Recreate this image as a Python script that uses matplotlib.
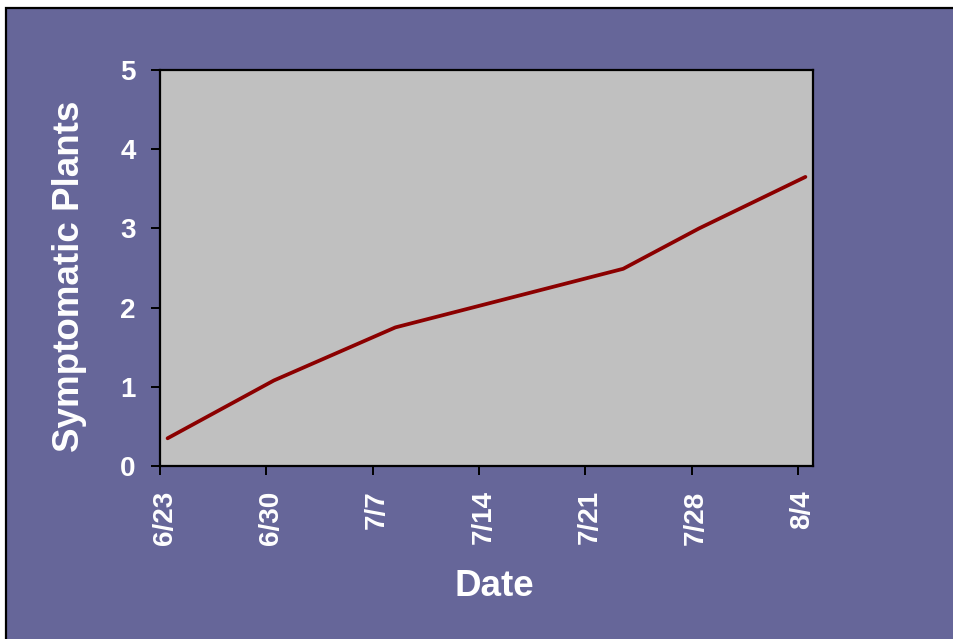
import datetime as dt
import matplotlib
matplotlib.use("Agg")
import matplotlib.pyplot as plt
from matplotlib.patches import Rectangle
from matplotlib.transforms import ScaledTranslation

# Survey data: count of symptomatic plants by sampling date
sample_dates = ["6/23", "6/30", "7/8", "7/23", "7/28", "8/4"]
symptomatic = [0.35, 1.08, 1.75, 2.49, 3.00, 3.65]
tick_dates = ["6/23", "6/30", "7/7", "7/14", "7/21", "7/28", "8/4"]
y_ticks = [0, 1, 2, 3, 4, 5]

plt.rcParams["font.family"] = ["Liberation Sans", "DejaVu Sans"]
plt.rcParams["font.weight"] = "bold"

start = dt.date(2000, 6, 23)


def day_offset(label):
    m, d = (int(p) for p in label.split("/"))
    return (dt.date(2000, m, d) - start).days


# points sit in the middle of their day on a date axis
x_pts = [day_offset(s) + 0.5 for s in sample_dates]
x_ticks = [day_offset(s) for s in tick_dates]

bg = "#666699"
fig = plt.figure(figsize=(9.54, 6.39), dpi=100, facecolor="white")
fig.patches.append(Rectangle((6.5 / 954, -0.1), 1.2, 1 - 7.5 / 639 + 0.1,
                             transform=fig.transFigure, facecolor=bg,
                             edgecolor="black", linewidth=1.6, zorder=-10))

ax = fig.add_axes([160 / 954, 1 - 466 / 639, (813 - 160) / 954, (466 - 70) / 639])
ax.set_zorder(5)
ax.set_facecolor("#C0C0C0")
for sp in ax.spines.values():
    sp.set_color("black")
    sp.set_linewidth(1.6)

ax.plot(x_pts, symptomatic, color="#8B0000", linewidth=2.7,
        solid_capstyle="round", solid_joinstyle="round")

ax.set_xlim(0, 43)
ax.set_ylim(0, 5)
ax.set_xticks(x_ticks)
ax.set_xticklabels(tick_dates, rotation=90, fontsize=20, fontweight="bold",
                   color="white")
ax.set_yticks(y_ticks)
ax.set_yticklabels([str(v) for v in y_ticks], fontsize=20, fontweight="bold",
                   color="white")
ax.tick_params(axis="both", direction="out", length=6.5, width=1.4,
               color="black")
ax.tick_params(axis="y", pad=11)
ax.tick_params(axis="x", pad=11)

shift = ScaledTranslation(4.5 / 100, 0, fig.dpi_scale_trans)
for lbl in ax.get_xticklabels():
    lbl.set_transform(lbl.get_transform() + shift)

fig.text(494 / 954, 1 - 586 / 639, "Date", ha="center", va="center",
         fontsize=26.5, fontweight="bold", color="white")
fig.text(70 / 954, 1 - 276 / 639, "Symptomatic Plants", ha="center",
         va="center", rotation=90, fontsize=26.5, fontweight="bold",
         color="white")

fig.savefig("out.png", dpi=100, facecolor=fig.get_facecolor())
